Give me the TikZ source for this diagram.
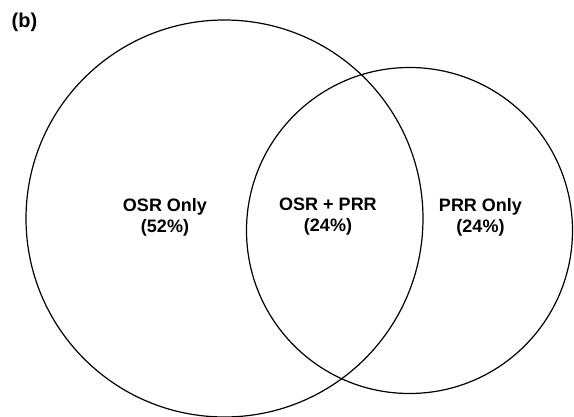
\documentclass[tikz,border=0pt]{standalone}
\usepackage{fontspec}
\setmainfont{Liberation Sans}
\usetikzlibrary{positioning}

\tikzset{
  setlbl/.style={align=center, inner sep=0pt,
    font=\bfseries\fontsize{18}{21}\selectfont},
}

\begin{document}
\begin{tikzpicture}[x=1pt, y=-1pt, line width=1.2pt]
            \useasboundingbox (0,0) rectangle (574,417);

            % Panel letter
            \node[inner sep=0pt, font=\bfseries\fontsize{20}{24}\selectfont] (panel) at (24.5,22) {(b)};

            % Set centres
            \coordinate (osrc) at (224.5, 218.5);
            \coordinate (prrc) at (409.5, 230.5);

            % Circles
            \draw (osrc) circle (198.5pt);
            \draw (prrc) circle (163pt);

            % Region labels
            \node[setlbl] (osronly) at (165, 217) {OSR Only\\(52\%)};
            \node[setlbl] (both) at (328, 217) {OSR + PRR\\(24\%)};
            \node[setlbl] (prronly) at (480.5, 217) {PRR Only\\(24\%)};
        \end{tikzpicture}
\end{document}
